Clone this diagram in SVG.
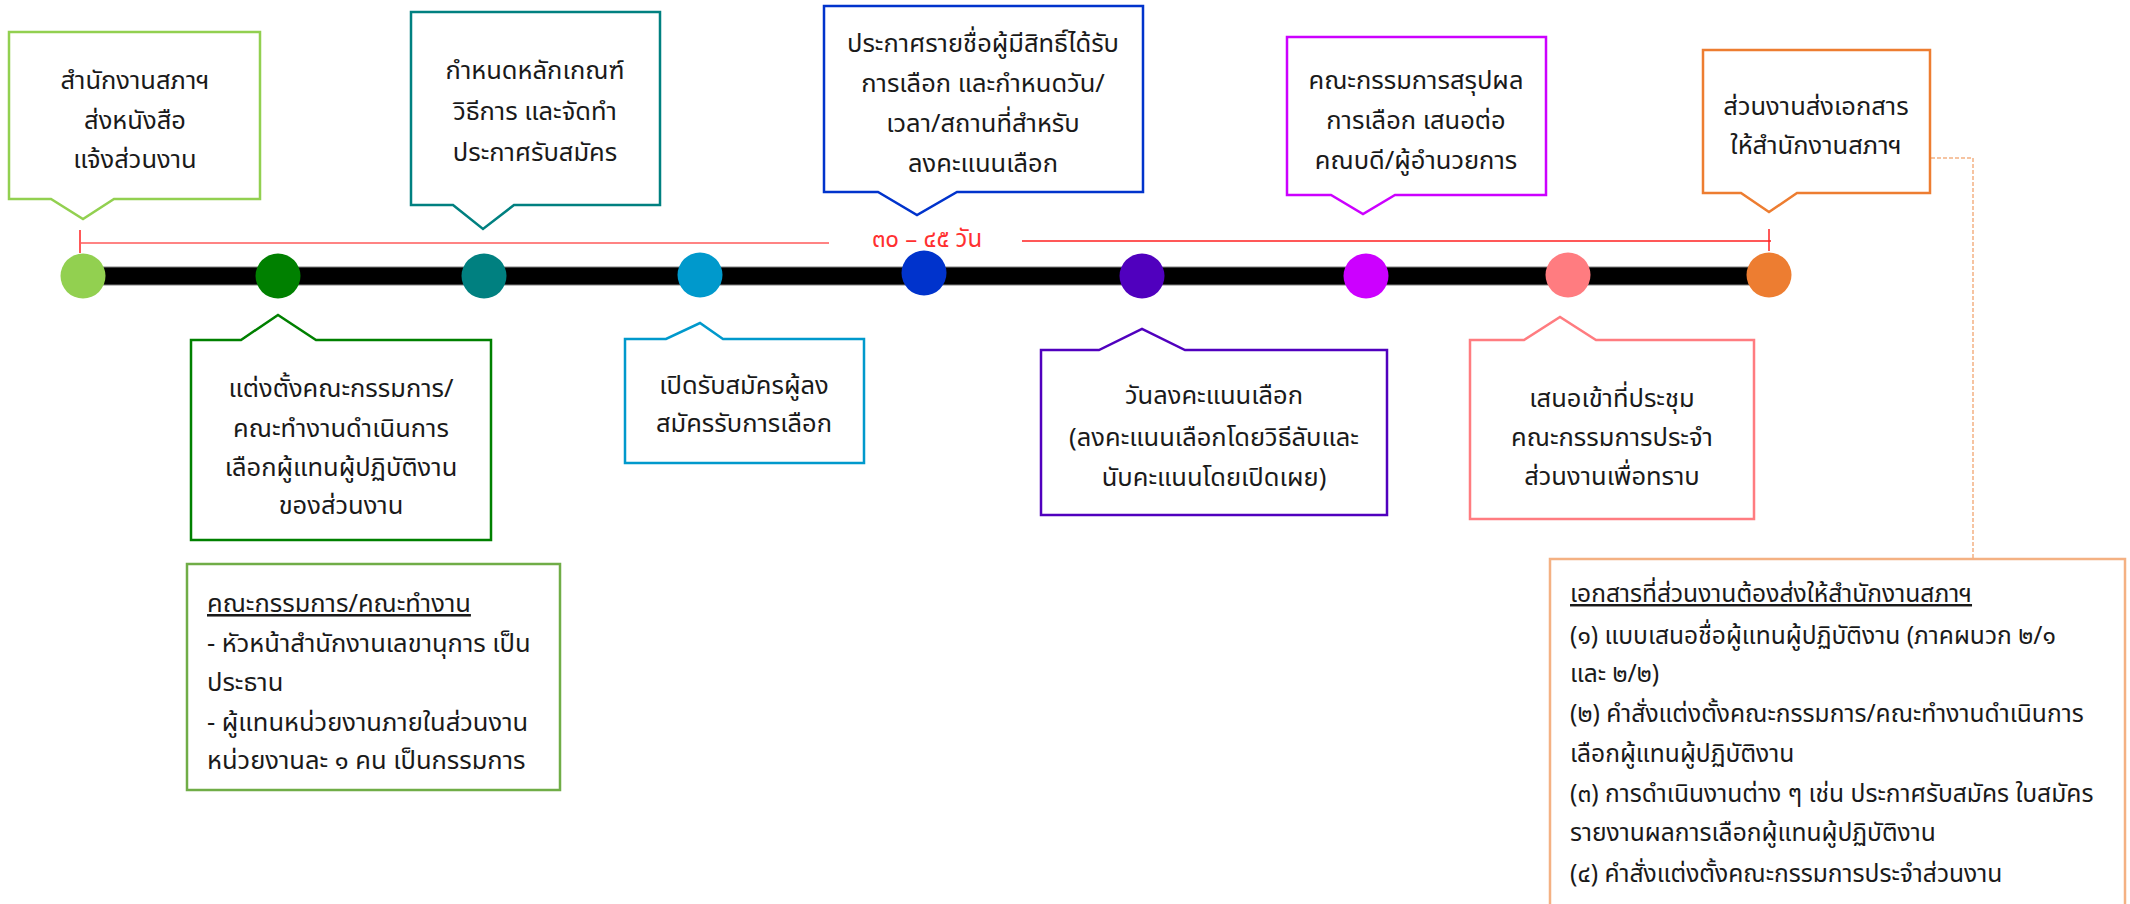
<svg xmlns="http://www.w3.org/2000/svg" width="2130" height="904" viewBox="0 0 2130 904">
<style>
text{font-family:"Leelawadee UI","Noto Sans Thai","Noto Sans","DejaVu Sans",sans-serif;fill:#1a1a1a;}
.c{font-size:25.5px;text-anchor:middle;}
.l{font-size:25.5px;}
.r{font-size:24.6px;}
.box{fill:#fff;stroke-width:2.5;}
.u{text-decoration:underline;}
</style>
<rect width="2130" height="904" fill="#fff"/>
<g id="connectors">
<rect x="82" y="267" width="1687" height="18" fill="#000" stroke="#808080" stroke-width="1"/>
<line x1="80" y1="230" x2="80" y2="253" stroke="#ff2020" stroke-width="1.5"/>
<line x1="80" y1="243" x2="829" y2="243" stroke="#ff5a5a" stroke-width="1.5"/>
<line x1="1022" y1="241" x2="1771" y2="241" stroke="#ff2020" stroke-width="1.5"/>
<line x1="1769" y1="229" x2="1769" y2="251" stroke="#ff2020" stroke-width="1.5"/>
<text x="927" y="247" style="font-size:24px;text-anchor:middle;fill:#ff3030">๓๐ – ๔๕ วัน</text>
<path d="M1931,158 H1973 V558" fill="none" stroke="#f4b183" stroke-width="1.5" stroke-dasharray="4 2"/>
</g>
<g id="dot1"><circle cx="83" cy="276" r="22.5" fill="#92d050"/></g>
<g id="dot2"><circle cx="278" cy="276" r="22.5" fill="#008000"/></g>
<g id="dot3"><circle cx="484" cy="276" r="22.5" fill="#008080"/></g>
<g id="dot4"><circle cx="700" cy="275" r="22.5" fill="#0099cc"/></g>
<g id="dot5"><circle cx="924" cy="273" r="22.5" fill="#0033cc"/></g>
<g id="dot6"><circle cx="1142" cy="276" r="22.5" fill="#5000be"/></g>
<g id="dot7"><circle cx="1366" cy="276" r="22.5" fill="#cc00ff"/></g>
<g id="dot8"><circle cx="1568" cy="275" r="22.5" fill="#ff7c80"/></g>
<g id="dot9"><circle cx="1769" cy="275" r="22.5" fill="#ed7d31"/></g>

<g id="box1">
<path class="box" stroke="#92d050" d="M9,32 H260 V199 H114 L83,219 L51,199 H9 Z"/>
<text class="c" x="135" y="89">สำนักงานสภาฯ</text>
<text class="c" x="135" y="129">ส่งหนังสือ</text>
<text class="c" x="135" y="168">แจ้งส่วนงาน</text>
</g>
<g id="box2">
<path class="box" stroke="#008000" d="M191,340 H241 L278,315 L316,340 H491 V540 H191 Z"/>
<text class="c" x="341" y="397">แต่งตั้งคณะกรรมการ/</text>
<text class="c" x="341" y="437">คณะทำงานดำเนินการ</text>
<text class="c" x="341" y="476">เลือกผู้แทนผู้ปฏิบัติงาน</text>
<text class="c" x="341" y="514">ของส่วนงาน</text>
</g>
<g id="box3">
<path class="box" stroke="#008080" d="M411,12 H660 V205 H514 L483,229 L453,205 H411 Z"/>
<text class="c" x="535" y="79">กำหนดหลักเกณฑ์</text>
<text class="c" x="535" y="120">วิธีการ และจัดทำ</text>
<text class="c" x="535" y="161">ประกาศรับสมัคร</text>
</g>
<g id="box4">
<path class="box" stroke="#0099cc" d="M625,339 H666 L700,323 L723,339 H864 V463 H625 Z"/>
<text class="c" x="744" y="394">เปิดรับสมัครผู้ลง</text>
<text class="c" x="744" y="432">สมัครรับการเลือก</text>
</g>
<g id="box5">
<path class="box" stroke="#0033cc" d="M824,6 H1143 V192 H957 L917,215 L878,192 H824 Z"/>
<text class="c" x="983" y="52">ประกาศรายชื่อผู้มีสิทธิ์ได้รับ</text>
<text class="c" x="983" y="92">การเลือก และกำหนดวัน/</text>
<text class="c" x="983" y="132">เวลา/สถานที่สำหรับ</text>
<text class="c" x="983" y="172">ลงคะแนนเลือก</text>
</g>
<g id="box6">
<path class="box" stroke="#5000be" d="M1041,350 H1099 L1142,329 L1185,350 H1387 V515 H1041 Z"/>
<text class="c" x="1214" y="404">วันลงคะแนนเลือก</text>
<text class="c" x="1214" y="446">(ลงคะแนนเลือกโดยวิธีลับและ</text>
<text class="c" x="1214" y="486">นับคะแนนโดยเปิดเผย)</text>
</g>
<g id="box7">
<path class="box" stroke="#cc00ff" d="M1287,37 H1546 V195 H1395 L1363,214 L1331,195 H1287 Z"/>
<text class="c" x="1416" y="89">คณะกรรมการสรุปผล</text>
<text class="c" x="1416" y="129">การเลือก เสนอต่อ</text>
<text class="c" x="1416" y="169">คณบดี/ผู้อำนวยการ</text>
</g>
<g id="box8">
<path class="box" stroke="#ff7c80" d="M1470,340 H1524 L1560,317 L1596,340 H1754 V519 H1470 Z"/>
<text class="c" x="1612" y="407">เสนอเข้าที่ประชุม</text>
<text class="c" x="1612" y="446">คณะกรรมการประจำ</text>
<text class="c" x="1612" y="485">ส่วนงานเพื่อทราบ</text>
</g>
<g id="box9">
<path class="box" stroke="#ed7d31" d="M1703,50 H1930 V193 H1797 L1769,212 L1741,193 H1703 Z"/>
<text class="c" x="1816" y="115">ส่วนงานส่งเอกสาร</text>
<text class="c" x="1816" y="154">ให้สำนักงานสภาฯ</text>
</g>
<g id="committee">
<rect class="box" stroke="#70ad47" x="187" y="564" width="373" height="226"/>
<text class="l u" x="207" y="612">คณะกรรมการ/คณะทำงาน</text>
<text class="l" x="207" y="652">- หัวหน้าสำนักงานเลขานุการ เป็น</text>
<text class="l" x="207" y="691">ประธาน</text>
<text class="l" x="207" y="731">- ผู้แทนหน่วยงานภายในส่วนงาน</text>
<text class="l" x="207" y="769">หน่วยงานละ ๑ คน เป็นกรรมการ</text>
</g>
<g id="documents">
<rect class="box" stroke="#f4b183" x="1550" y="559" width="575" height="360"/>
<text class="r u" x="1570" y="602">เอกสารที่ส่วนงานต้องส่งให้สำนักงานสภาฯ</text>
<text class="r" x="1570" y="644">(๑) แบบเสนอชื่อผู้แทนผู้ปฏิบัติงาน (ภาคผนวก ๒/๑</text>
<text class="r" x="1570" y="682">และ ๒/๒)</text>
<text class="r" x="1570" y="722">(๒) คำสั่งแต่งตั้งคณะกรรมการ/คณะทำงานดำเนินการ</text>
<text class="r" x="1570" y="762">เลือกผู้แทนผู้ปฏิบัติงาน</text>
<text class="r" x="1570" y="802">(๓) การดำเนินงานต่าง ๆ เช่น ประกาศรับสมัคร ใบสมัคร</text>
<text class="r" x="1570" y="841">รายงานผลการเลือกผู้แทนผู้ปฏิบัติงาน</text>
<text class="r" x="1570" y="882">(๔) คำสั่งแต่งตั้งคณะกรรมการประจำส่วนงาน</text>
</g>
</svg>
